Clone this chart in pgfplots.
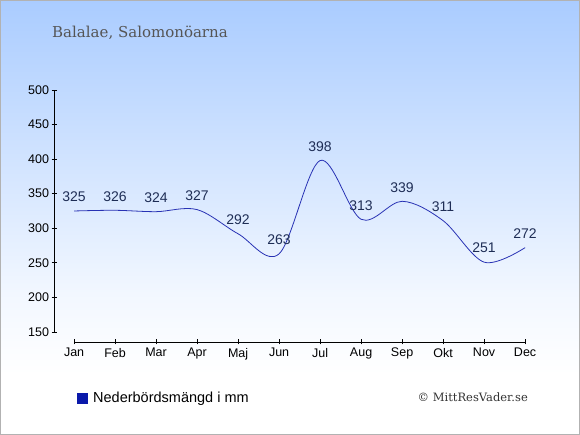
\documentclass[border=0pt]{standalone}
\usepackage{pgfplots}
\pgfplotsset{compat=1.18}
\usepackage{fontspec}
\setmainfont{Liberation Sans}
\newfontfamily\seriffont{DejaVu Serif}
\definecolor{bgtop}{RGB}{170,204,255}
\definecolor{linec}{RGB}{40,50,180}
\definecolor{labc}{RGB}{30,45,85}
\definecolor{legc}{RGB}{10,25,170}
\definecolor{titc}{RGB}{85,85,85}
\begin{document}
\begin{tikzpicture}[x=1pt,y=1pt]
\fill[white] (0,0) rectangle (580,60);
\shade[top color={bgtop!15!white}, bottom color=white] (0,60) rectangle (580,140);
\shade[top color=bgtop, bottom color={bgtop!15!white}] (0,140) rectangle (580,435);
\draw[gray!60, line width=1pt] (0.5,0.5) rectangle (579.5,434.5);
\node[anchor=base west, font=\seriffont\fontsize{15}{17}\selectfont, text=titc, inner sep=0] at (52,397) {Balalae, Salomonöarna};
\begin{axis}[
  at={(54pt,93pt)}, anchor=south west,
  scale only axis, width=479.3pt, height=252pt,
  xmin=-0.49, xmax=11.2, ymin=135.5, ymax=500,
  axis line style={draw=none},
  clip=false,
  xtick={0,...,11},
  xticklabels={Jan,Feb,Mar,Apr,Maj,Jun,Jul,Aug,Sep,Okt,Nov,Dec},
  ytick={150,200,...,500},
  xtick pos=bottom, ytick pos=left,
  tick align=center,
  major tick length=5pt,
  tick style={black, line width=0.8pt},
  tick label style={font=\fontsize{12.5}{14}\selectfont, text=black},
  xticklabel style={yshift=0pt},
  yticklabel style={xshift=1pt},
  /pgf/number format/assume math mode=true,
]
\draw[black, line width=0.8pt] (axis cs:-0.49,150) -- (axis cs:-0.49,500);
\draw[black, line width=0.8pt] (axis cs:0,135.5) -- (axis cs:11,135.5);
\addplot[linec, line width=0.8pt, smooth, tension=0.55, mark=none,
  nodes near coords, point meta=explicit symbolic,
  every node near coord/.style={anchor=center, yshift=14pt, font=\fontsize{14}{16}\selectfont, text=labc}]
  table[meta=v] {
  x y v
  0 325 325
  1 326 326
  2 324 324
  3 327 327
  4 292 292
  5 263 263
  6 398 398
  7 313 313
  8 339 339
  9 311 311
  10 251 251
  11 272 272
};
\end{axis}
\fill[legc] (77,31) rectangle (88,42);
\node[anchor=base west, font=\fontsize{14.5}{16}\selectfont, inner sep=0] at (93,32) {Nederbördsmängd i mm};
\node[anchor=base east, font=\seriffont\fontsize{11.5}{13}\selectfont, text=black!80, inner sep=0] at (528,33) {© MittResVader.se};
\end{tikzpicture}
\end{document}
